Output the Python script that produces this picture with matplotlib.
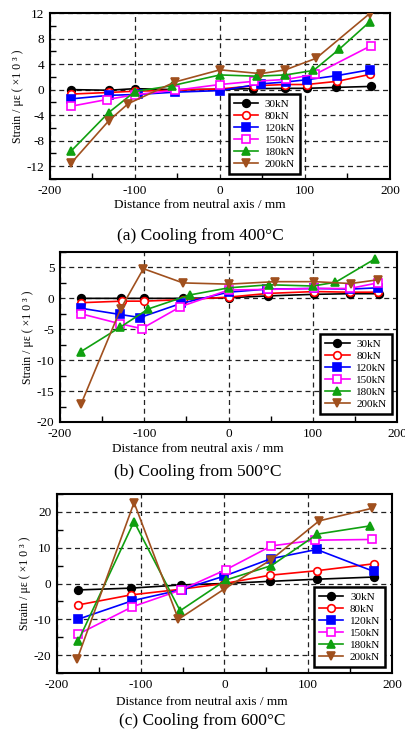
import matplotlib
matplotlib.use("Agg")
import matplotlib.pyplot as plt
from matplotlib.ticker import MultipleLocator

plt.rcParams['font.family'] = ['Liberation Serif', 'DejaVu Serif']
plt.rcParams['axes.unicode_minus'] = False

labels = ["30kN", "80kN", "120kN", "150kN", "180kN", "200kN"]
colors = ["#000000", "#ff0000", "#0000ff", "#ff00ff", "#10a010", "#a0501e"]
markers = ["o", "o", "s", "s", "^", "v"]
filled = [True, False, True, False, True, True]

# Panel (a) Cooling from 400°C
a_x = [
    [-175, -131, -100, -53, 0, 39, 76, 102, 137, 178],
    [-175, -131, -100, -53, 0, 40, 77, 102, 138, 177],
    [-175, -131, -96, -53, 0, 48, 78, 102, 138, 176],
    [-175, -133, -100, -53, 0, 40, 78, 112, 178],
    [-175, -131, -100, -57, 0, 43, 77, 110, 140, 176],
    [-175, -131, -108, -53, 0, 48, 77, 113, 176],
]
a_y = [
    [0.0, -0.1, 0.15, 0.0, 0.05, 0.15, 0.2, 0.2, 0.35, 0.5],
    [-0.7, -0.45, -0.25, -0.1, 0.1, 0.6, 0.8, 0.8, 1.3, 2.4],
    [-1.45, -0.9, -0.75, -0.4, -0.15, 0.9, 1.2, 1.55, 2.2, 3.1],
    [-2.6, -1.55, -0.8, -0.1, 0.8, 1.3, 1.6, 2.4, 6.9],
    [-9.6, -3.6, -0.3, 0.6, 2.3, 2.1, 2.3, 3.0, 6.3, 10.6],
    [-11.5, -4.9, -2.2, 1.2, 3.1, 2.5, 3.1, 4.9, 11.9],
]

# Panel (b) Cooling from 500°C
b_x = [
    [-175, -128, -100, -54, 0, 47, 101, 144, 179],
    [-175, -126, -100, -54, 0, 47, 102, 144, 178],
    [-175, -129, -105, -56, 0, 46, 102, 144, 177],
    [-175, -129, -103, -57, 0, 47, 102, 144, 177],
    [-175, -129, -95, -46, 0, 48, 100, 127, 174],
    [-175, -128, -101, -54, 0, 55, 102, 145, 177],
]
b_y = [
    [0.0, 0.0, 0.0, 0.0, 0.1, 0.4, 0.65, 0.75, 0.75],
    [-0.7, -0.45, -0.45, -0.2, 0.2, 0.8, 1.1, 1.0, 1.0],
    [-1.6, -2.6, -3.1, -0.8, 1.0, 1.5, 1.6, 1.5, 1.7],
    [-2.5, -4.1, -4.9, -1.35, 1.35, 1.45, 1.6, 1.6, 2.5],
    [-8.6, -4.7, -1.7, 0.55, 1.7, 2.2, 2.0, 2.6, 6.4],
    [-17.1, -1.7, 4.8, 2.5, 2.3, 2.7, 2.7, 2.4, 3.0],
]

# Panel (c) Cooling from 600°C
c_x = [
    [-175, -112, -52, 0, 54, 111, 178],
    [-175, -112, -52, 0, 54, 111, 178],
    [-175, -110, -51, 0, 55, 110, 178],
    [-175, -110, -52, 2, 56, 108, 176],
    [-175, -108, -53, 2, 56, 111, 174],
    [-176, -108, -55, 0, 56, 113, 176],
]
c_y = [
    [-1.8, -1.3, -0.4, 0.0, 0.6, 1.2, 1.8],
    [-6.0, -3.2, -1.6, 0.0, 2.3, 3.6, 5.5],
    [-10.0, -4.8, -1.7, 2.1, 6.9, 9.5, 3.4],
    [-14.2, -6.5, -1.8, 3.9, 10.5, 12.1, 12.3],
    [-16.2, 17.3, -7.6, 1.0, 5.0, 13.8, 16.1],
    [-21.2, 22.6, -10.0, -1.5, 6.7, 17.5, 21.0],
]

captions = ["(a) Cooling from 400°C", "(b) Cooling from 500°C", "(c) Cooling from 600°C"]
xlabel = "Distance from neutral axis / mm"
ylabel = "Strain / με ( ×1 0 ³ )"

W, H = 406, 738
fig = plt.figure(figsize=(W / 100, H / 100), dpi=100)


def rect(l, r, t, b):
    return [l / W, 1 - b / H, (r - l) / W, (b - t) / H]


panels = [
    dict(rect=rect(50, 390, 13, 179), xs=a_x, ys=a_y, ylim=(-14, 12), ymaj=4, ymin=2,
         leg=(0.526, 0.512), cap_y=236, cap_x=200, xl_y=205),
    dict(rect=rect(60, 397, 252, 422), xs=b_x, ys=b_y, ylim=(-20, 7.5), ymaj=5, ymin=2.5,
         leg=(0.772, 0.518), cap_y=472, cap_x=198, xl_y=449),
    dict(rect=rect(57, 392, 494, 673), xs=c_x, ys=c_y, ylim=(-25, 25), ymaj=10, ymin=5,
         leg=(0.767, 0.48), cap_y=721, cap_x=202, xl_y=702),
]

for k, p in enumerate(panels):
    ax = fig.add_axes(p['rect'])
    for i in range(6):
        ax.plot(p['xs'][i], p['ys'][i], color=colors[i], marker=markers[i],
                markersize=5.5, linewidth=1.2,
                markerfacecolor=colors[i] if filled[i] else 'white',
                markeredgecolor=colors[i], markeredgewidth=1.2,
                label=labels[i], zorder=3)
    ax.set_xlim(-200, 200)
    ax.set_ylim(*p['ylim'])
    ax.xaxis.set_major_locator(MultipleLocator(100))
    ax.xaxis.set_minor_locator(MultipleLocator(50))
    ax.yaxis.set_major_locator(MultipleLocator(p['ymaj']))
    ax.yaxis.set_minor_locator(MultipleLocator(p['ymin']))
    ax.tick_params(which='both', direction='in', top=False, right=False, labelsize=9.5)
    ax.tick_params(which='major', length=0, pad=4)
    ax.tick_params(which='minor', length=4, width=1.0)
    ax.grid(True, which='major', color='#222222', linestyle=(0, (4, 3)), linewidth=0.9)
    for s in ax.spines.values():
        s.set_linewidth(1.5)
    ax.set_ylabel(ylabel, fontsize=8.5, labelpad=2)
    leg = ax.legend(loc='upper left', bbox_to_anchor=p['leg'], borderaxespad=0,
                    fontsize=8, frameon=True, fancybox=False, edgecolor='black',
                    handlelength=2.2, labelspacing=0.2, borderpad=0.45,
                    handletextpad=0.6, framealpha=1)
    leg.get_frame().set_linewidth(1.8)
    leg.set_zorder(5)
    fig.text(p['cap_x'] / W, 1 - p['xl_y'] / H, xlabel,
             ha='center', va='center', fontsize=9.5)
    fig.text(p['cap_x'] / W, 1 - p['cap_y'] / H, captions[k],
             ha='center', va='center', fontsize=12.5)

fig.savefig("out.png", dpi=100)
